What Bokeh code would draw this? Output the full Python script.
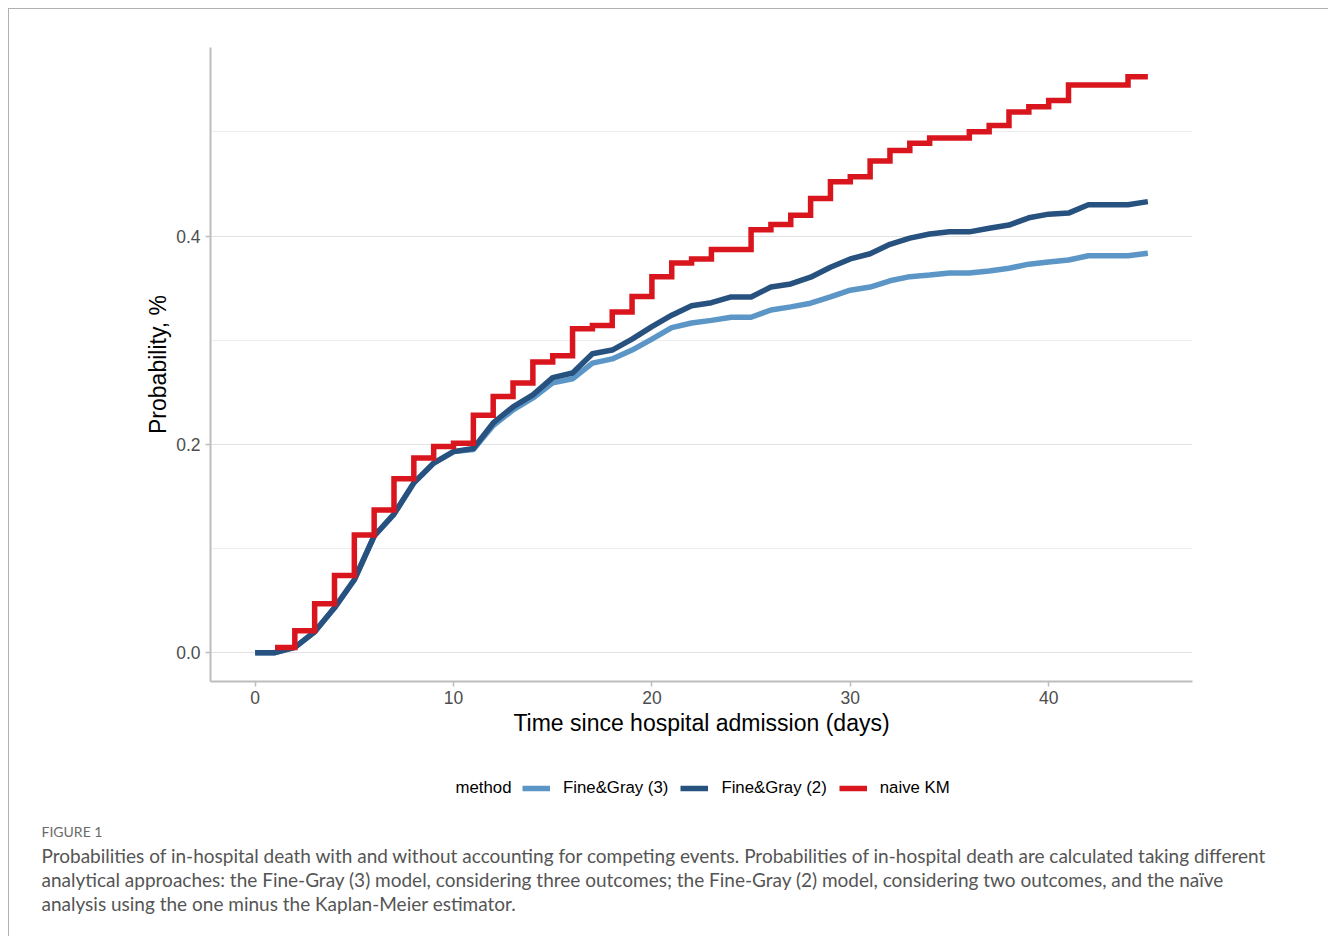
from bokeh.plotting import figure
from bokeh.models import (Range1d, FixedTicker, PrintfTickFormatter, Legend, LegendItem, Label)
from bokeh.embed import file_html
from bokeh.resources import INLINE

# ---------------- data ----------------
days = list(range(0, 46))
fg3 = [0.0, 0.0, 0.005, 0.020, 0.043, 0.070, 0.112, 0.133, 0.163, 0.182,
       0.193, 0.195, 0.218, 0.233, 0.2445, 0.259, 0.263, 0.278, 0.282, 0.2905,
       0.301, 0.312, 0.3165, 0.319, 0.322, 0.322, 0.329, 0.332, 0.3355, 0.3415,
       0.348, 0.351, 0.357, 0.361, 0.3625, 0.3645, 0.3645, 0.3665, 0.369, 0.373,
       0.375, 0.377, 0.381, 0.381, 0.381, 0.3835]
fg2 = [0.0, 0.0, 0.005, 0.020, 0.043, 0.070, 0.112, 0.133, 0.163, 0.182,
       0.193, 0.196, 0.2205, 0.236, 0.2475, 0.264, 0.2685, 0.287, 0.2905, 0.301,
       0.313, 0.324, 0.333, 0.336, 0.3415, 0.3415, 0.351, 0.354, 0.3605, 0.370,
       0.378, 0.383, 0.392, 0.398, 0.402, 0.404, 0.404, 0.4075, 0.4105, 0.4175,
       0.421, 0.422, 0.430, 0.430, 0.430, 0.433]
km_days = list(range(1, 46))
km = [0.005, 0.021, 0.047, 0.074, 0.113, 0.137, 0.167, 0.187, 0.198, 0.201,
      0.228, 0.246, 0.259, 0.279, 0.285, 0.311, 0.314, 0.327, 0.342, 0.361,
      0.374, 0.378, 0.387, 0.387, 0.406, 0.411, 0.420, 0.436, 0.452, 0.457,
      0.472, 0.482, 0.489, 0.494, 0.494, 0.500, 0.506, 0.519, 0.524, 0.530,
      0.545, 0.545, 0.545, 0.553, 0.553]

series_names = ["Fine&Gray (3)", "Fine&Gray (2)", "naive KM"]
colors = ["#5b96c6", "#27517f", "#d9161d"]
y_ticks = [0.0, 0.2, 0.4]
y_minor = [0.1, 0.3, 0.5]
x_ticks = [0, 10, 20, 30, 40]

legend_title = "method"
x_label = "Time since hospital admission (days)"
y_label = "Probability, %"
caption_title = "FIGURE 1"
caption_lines = [
    "Probabilities of in-hospital death with and without accounting for competing events. Probabilities of in-hospital death are calculated taking different",
    "analytical approaches: the Fine-Gray (3) model, considering three outcomes; the Fine-Gray (2) model, considering two outcomes, and the na\u00efve",
    "analysis using the one minus the Kaplan-Meier estimator.",
]

FONT = "Liberation Sans"
LW = 5.5
BORDER = "1px solid #b0b0b0"

# ---------------- chart figure ----------------
W = 1320
H1 = 741
p = figure(width=W, height=H1, output_backend="svg", toolbar_location=None,
           x_range=Range1d(-2.25, 47.25), y_range=Range1d(-0.0277, 0.581),
           min_border_left=201, min_border_right=137, min_border_top=38,
           min_border_bottom=69)
p.styles = {"margin-left": "8px", "margin-top": "8px",
            "border-top": BORDER, "border-left": BORDER}
p.outline_line_color = None
p.background_fill_color = "white"
p.border_fill_color = "white"

p.xaxis.ticker = FixedTicker(ticks=x_ticks)
p.yaxis.ticker = FixedTicker(ticks=y_ticks, minor_ticks=y_minor)
p.yaxis.formatter = PrintfTickFormatter(format="%.1f")
for ax in (p.xaxis[0], p.yaxis[0]):
    ax.axis_line_color = "#bdbdbd"
    ax.axis_line_width = 2
    ax.major_tick_line_color = "#bdbdbd"
    ax.major_tick_line_width = 1.5
    ax.major_tick_out = 5
    ax.major_tick_in = 0
    ax.minor_tick_line_color = None
    ax.major_label_text_font = FONT
    ax.major_label_text_font_size = "17.5px"
    ax.major_label_text_color = "#4d4d4d"
    ax.axis_label_text_font = FONT
    ax.axis_label_text_font_size = "23px"
    ax.axis_label_text_font_style = "normal"
    ax.axis_label_text_color = "black"
p.xaxis.axis_label = x_label
p.yaxis.axis_label = y_label
p.xaxis.major_label_standoff = 4
p.yaxis.major_label_standoff = 5
p.xaxis.axis_label_standoff = 3
p.yaxis.axis_label_standoff = 2

p.xgrid.grid_line_color = None
p.ygrid.grid_line_color = "#e3e3e3"
p.ygrid.grid_line_width = 1.2
p.ygrid.minor_grid_line_color = "#ececec"
p.ygrid.minor_grid_line_width = 1.2

p.line(days, fg3, line_color=colors[0], line_width=LW, line_join="round")
p.line(days, fg2, line_color=colors[1], line_width=LW, line_join="round")
p.step(km_days, km, mode="after", line_color=colors[2], line_width=LW, line_join="miter")

# ---------------- legend + caption figure ----------------
# data coordinates of this panel equal page pixels (x from left, y from top)
X0, Y0 = 9, 750
H2 = 187
q = figure(width=W, height=H2, output_backend="svg", toolbar_location=None,
           x_range=Range1d(X0, X0 + W), y_range=Range1d(Y0 + H2, Y0),
           min_border_left=0, min_border_right=0,
           min_border_top=0, min_border_bottom=0)
q.styles = {"margin-left": "8px", "border-left": BORDER}
q.axis.visible = False
q.grid.visible = False
q.outline_line_color = None
q.background_fill_color = "white"
q.border_fill_color = "white"

# legend proxies (the series lie far outside this panel's ranges, so only the legend shows them)
d3 = q.line(days, fg3, line_color=colors[0], line_width=LW)
d2 = q.line(days, fg2, line_color=colors[1], line_width=LW)
dk = q.line(km_days, km, line_color=colors[2], line_width=LW)
legend = Legend(items=[LegendItem(label=series_names[0], renderers=[d3]),
                       LegendItem(label=series_names[1], renderers=[d2]),
                       LegendItem(label=series_names[2], renderers=[dk])],
                orientation="horizontal", location=(522 - X0, (Y0 + H2) - 799),
                glyph_width=28, glyph_height=20, label_standoff=13, spacing=12,
                padding=0, margin=0, border_line_color=None, background_fill_alpha=0,
                label_text_font=FONT, label_text_font_size="16.8px",
                label_text_color="black", label_height=20)
q.add_layout(legend, "center")

q.add_layout(Label(x=455, y=788, text=legend_title,
                   text_font=FONT, text_font_size="16.8px", text_color="black",
                   text_baseline="middle"))
q.add_layout(Label(x=41, y=832, text=caption_title,
                   text_font="Lato", text_font_size="14px", text_color="#6a6a6a",
                   text_baseline="middle"))
for i, line in enumerate(caption_lines):
    q.add_layout(Label(x=41, y=856 + 24 * i, text=line,
                       text_font="Lato", text_font_size="19px", text_color="#555555",
                       text_baseline="middle"))

open("out.html", "w").write(file_html([p, q], INLINE))
